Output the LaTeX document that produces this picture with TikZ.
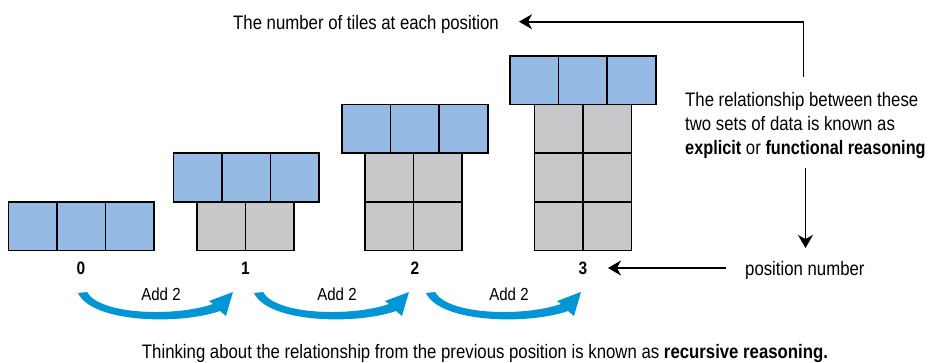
\documentclass[tikz,border=0pt]{standalone}
\usepackage{fontspec}
\setmainfont{Liberation Sans}[FakeStretch=0.86]
\newfontfamily\boldnarrow{Liberation Sans Bold}[FakeStretch=0.835]
\usetikzlibrary{arrows.meta}
\definecolor{tileblue}{HTML}{95BAE3}
\definecolor{tilegray}{HTML}{C7C8CA}
\definecolor{arrblue}{HTML}{0096D6}
\tikzset{
  bluetile/.style={fill=tileblue,draw=black,line width=1.6pt},
  graytile/.style={fill=tilegray,draw=black,line width=1.6pt},
  txt/.style={inner sep=0pt,font=\fontsize{19.5}{24}\selectfont},
  smalltxt/.style={inner sep=0pt,font=\fontsize{17.5}{21}\selectfont},
  numtxt/.style={inner sep=0pt,font=\fontsize{18}{21}\selectfont\bfseries},
  blackarrow/.style={draw=black,line width=1.8pt,-{Stealth[length=13pt,width=15pt,inset=4pt]}},
}
\begin{document}
\begin{tikzpicture}[x=1pt,y=-1pt]
\useasboundingbox (0,0) rectangle (930,362);
\def\s{48.6}
% position 0
\foreach \i in {0,1,2}{\draw[bluetile] (8.3+\i*\s,201.7) rectangle ++(\s,\s);}
% position 1
\foreach \i in {0,1,2}{\draw[bluetile] (173.3+\i*\s,153.1) rectangle ++(\s,\s);}
\foreach \i in {0,1}{\draw[graytile] (196.7+\i*\s,201.7) rectangle ++(\s,\s);}
% position 2
\foreach \i in {0,1,2}{\draw[bluetile] (342+\i*\s,104.5) rectangle ++(\s,\s);}
\foreach \i in {0,1}{\foreach \j in {0,1}{\draw[graytile] (365+\i*\s,153.1+\j*\s) rectangle ++(\s,\s);}}
% position 3
\foreach \i in {0,1,2}{\draw[bluetile] (510+\i*\s,55.9) rectangle ++(\s,\s);}
\foreach \i in {0,1}{\foreach \j in {0,1,2}{\draw[graytile] (534.3+\i*\s,104.5+\j*\s) rectangle ++(\s,\s);}}
% position numbers
\node[numtxt,anchor=base] (n0) at (81,274.5) {0};
\node[numtxt,anchor=base] (n1) at (245.5,274.5) {1};
\node[numtxt,anchor=base] (n2) at (415,274.5) {2};
\node[numtxt,anchor=base] (n3) at (583,274.5) {3};
% curved blue arrows
\foreach \dx/\nm in {0/a,176/b,348/c}{
  \fill[arrblue,xshift=\dx pt] (78,293) .. controls (92,323) and (180,325) .. (220,311)
     -- (226,316) -- (233,292) -- (209,301) -- (213,304)
     .. controls (175,317) and (100,315) .. (87,292) -- cycle;
  \node[smalltxt,anchor=base,xshift=\dx pt] (add\nm) at (161,300) {Add 2};
}
% top text and arrow
\node[txt,anchor=base west] (ttop) at (233,29) {The number of tiles at each position};
\coordinate (corner) at (803.5,21.7);
\coordinate (topend) at (803.5,77);
\coordinate (toptip) at (519,21.7);
\draw[blackarrow] (topend) -- (corner) -- (toptip);
% right block
\node[txt,anchor=base west] (r1) at (685,106.5) {The relationship between these};
\node[txt,anchor=base west] (r2) at (685,130.5) {two sets of data is known as};
\node[txt,anchor=base west] (r3) at (685,154.5) {{\boldnarrow explicit} or {\boldnarrow functional reasoning}};
\coordinate (dstart) at (805.5,168);
\coordinate (dtip) at (805.5,248);
\draw[blackarrow] (dstart) -- (dtip);
% position number
\node[txt,anchor=base west] (pn) at (745,275) {position number};
\coordinate (ptip) at (608,268);
\coordinate (pstart) at (726,268);
\draw[blackarrow] (pstart) -- (ptip);
% bottom text
\node[txt,anchor=base] (bottom) at (485,358) {Thinking about the relationship from the previous position is known as \textbf{recursive reasoning.}};
\end{tikzpicture}
\end{document}
